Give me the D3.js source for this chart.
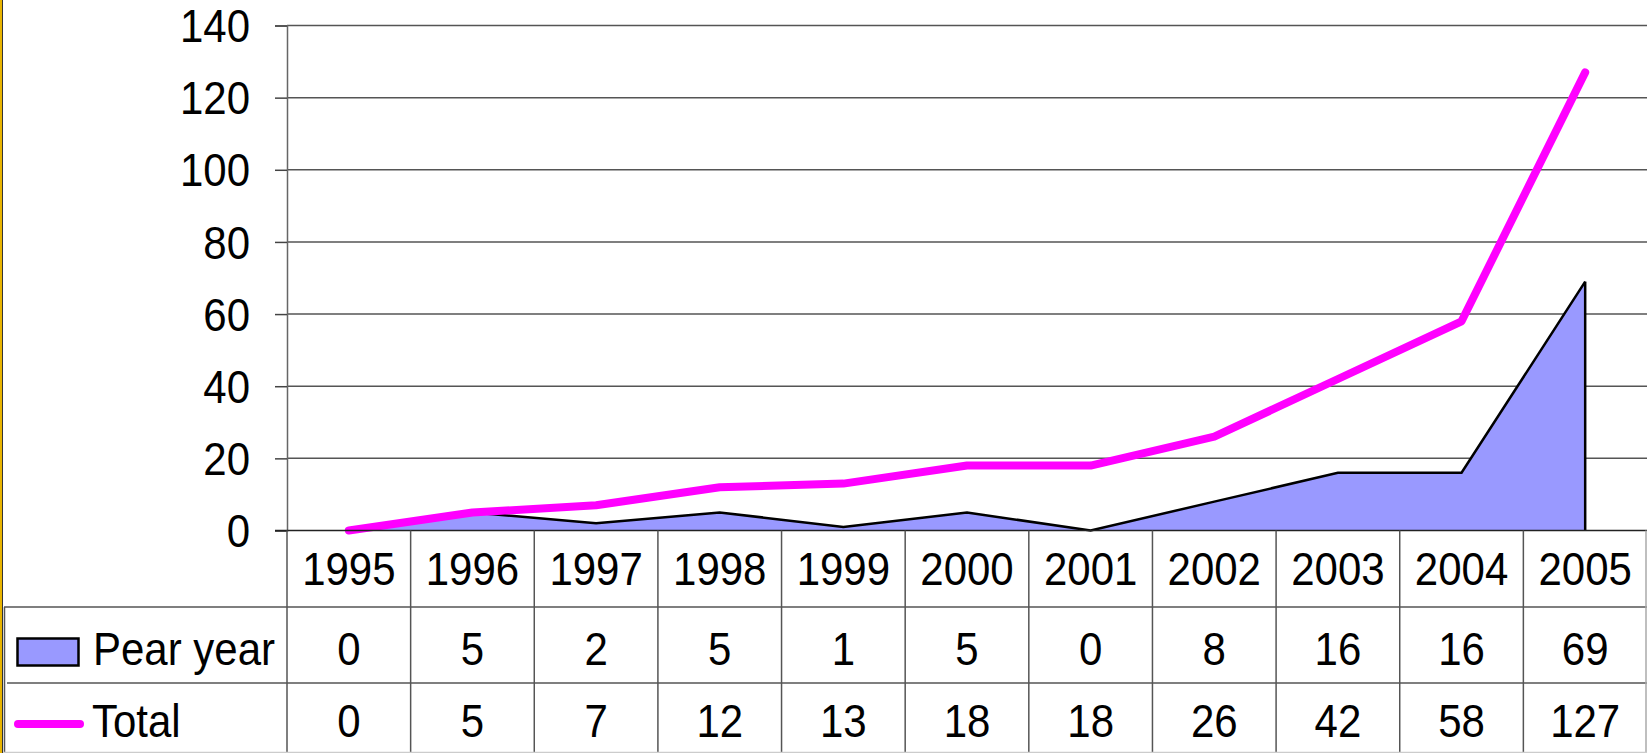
<!DOCTYPE html>
<html>
<head>
<meta charset="utf-8">
<script src="https://cdn.jsdelivr.net/npm/d3@7"></script>
<style>
  html, body { margin: 0; padding: 0; background: #fff; }
  svg { display: block; }
  text { font-family: "Liberation Sans", Arial, sans-serif; fill: #000; }
</style>
</head>
<body>
<svg id="chart" width="1647" height="753"></svg>
<script>
// chart data
var years = ["1995", "1996", "1997", "1998", "1999", "2000", "2001", "2002", "2003", "2004", "2005"];
var perYear = [0, 5, 2, 5, 1, 5, 0, 8, 16, 16, 69];
var total = [0, 5, 7, 12, 13, 18, 18, 26, 42, 58, 127];
var yTicks = [0, 20, 40, 60, 80, 100, 120, 140];
var rowNames = ["Pear year", "Total"];

var W = 1647, H = 753;
var fs = 42, stretch = 1.1;   // text looks a bit taller than wide in the original

var svg = d3.select("#chart");

var x = d3.scaleBand().domain(years).range([287, 1647]);
var y = d3.scaleLinear().domain([0, 140]).range([530.5, 25.5]);
var cx = function(d, i) { return x(years[i]) + x.bandwidth() / 2; };

var rowTop = [530.5, 607, 683];

// label helper: anchored text, vertically stretched
function label(g, tx, ty, str, anchor) {
  g.append("text")
    .attr("transform", "translate(" + tx + "," + ty + ") scale(1," + stretch + ")")
    .attr("text-anchor", anchor || "middle")
    .attr("dy", "0.35em")
    .style("font-size", fs + "px")
    .text(str);
}

// left yellow frame edge
svg.append("rect").attr("x", 0).attr("y", 0).attr("width", 2).attr("height", H).attr("fill", "#e8b400");
svg.append("line").attr("x1", 2.5).attr("x2", 2.5).attr("y1", 0).attr("y2", H)
  .attr("stroke", "#333").attr("stroke-width", 1);

// gridlines
svg.append("g").selectAll("line").data(yTicks.slice(1)).join("line")
  .attr("x1", 287).attr("x2", W)
  .attr("y1", d => y(d)).attr("y2", d => y(d))
  .attr("stroke", "#555").attr("stroke-width", 1.5);

// y axis
var yAxis = svg.append("g")
  .attr("transform", "translate(287,0)")
  .call(d3.axisLeft(y).tickValues(yTicks).tickSize(12).tickPadding(25).tickFormat(d3.format("d")));
yAxis.select(".domain").attr("stroke", "#666").attr("stroke-width", 1.5);
yAxis.selectAll(".tick line").attr("stroke", "#444").attr("stroke-width", 1.5);
yAxis.selectAll(".tick text").remove();
yAxis.selectAll(".tick").each(function(d) {
  label(d3.select(this), -37, 0, d, "end");
});

// area per year
var area = d3.area()
  .x(cx)
  .y0(y(0))
  .y1(d => y(d));
svg.append("path").datum(perYear)
  .attr("d", area)
  .attr("fill", "#9999ff");
svg.append("path").datum(perYear)
  .attr("d", d3.line().x(cx).y(d => y(d)))
  .attr("fill", "none").attr("stroke", "#000").attr("stroke-width", 2.5);
svg.append("line")
  .attr("x1", cx(0, perYear.length - 1)).attr("x2", cx(0, perYear.length - 1))
  .attr("y1", y(perYear[perYear.length - 1])).attr("y2", y(0))
  .attr("stroke", "#000").attr("stroke-width", 2.5);

// total line
svg.append("path").datum(total)
  .attr("d", d3.line().x(cx).y(d => y(d)))
  .attr("fill", "none").attr("stroke", "#ff00ff").attr("stroke-width", 8)
  .attr("stroke-linecap", "round").attr("stroke-linejoin", "round");

// data table lines
var tbl = svg.append("g").attr("stroke", "#555").attr("stroke-width", 1.5);
tbl.append("line").attr("x1", 275).attr("x2", W).attr("y1", rowTop[0]).attr("y2", rowTop[0]).attr("stroke", "#222");
tbl.append("line").attr("x1", 4).attr("x2", W).attr("y1", rowTop[1]).attr("y2", rowTop[1]);
tbl.append("line").attr("x1", 7).attr("x2", W).attr("y1", rowTop[2]).attr("y2", rowTop[2]);
tbl.append("line").attr("x1", 4.5).attr("x2", 4.5).attr("y1", rowTop[1]).attr("y2", H);
tbl.selectAll(".vcol").data(years.slice(1)).join("line")
  .attr("x1", d => x(d)).attr("x2", d => x(d))
  .attr("y1", rowTop[0]).attr("y2", H);
tbl.append("line").attr("x1", 287).attr("x2", 287).attr("y1", rowTop[0]).attr("y2", H);
tbl.append("line").attr("x1", W - 1).attr("x2", W - 1).attr("y1", rowTop[0]).attr("y2", H).attr("stroke", "#aaa");
tbl.append("line").attr("x1", 4).attr("x2", W).attr("y1", H - 0.5).attr("y2", H - 0.5).attr("stroke", "#ccc");

// table text
var txt = svg.append("g");
years.forEach(function(yr, i) {
  label(txt, cx(0, i), 568.5, yr);
  label(txt, cx(0, i), 648.5, perYear[i]);
  label(txt, cx(0, i), 721, total[i]);
});

// row legend
svg.append("rect").attr("x", 17.5).attr("y", 638.5).attr("width", 61).attr("height", 27)
  .attr("fill", "#9999ff").attr("stroke", "#000").attr("stroke-width", 2.5);
label(svg, 93, 648.5, rowNames[0], "start");
svg.append("line").attr("x1", 18).attr("x2", 80).attr("y1", 724).attr("y2", 724)
  .attr("stroke", "#ff00ff").attr("stroke-width", 8).attr("stroke-linecap", "round");
label(svg, 92, 721, rowNames[1], "start");
</script>
</body>
</html>
